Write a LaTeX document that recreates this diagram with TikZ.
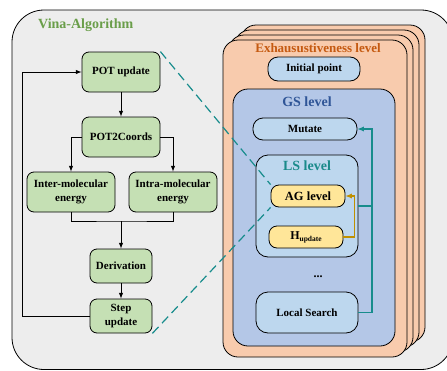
\documentclass[tikz,border=0pt]{standalone}
\usepackage{fontspec}
\setmainfont{Liberation Serif}
\usetikzlibrary{arrows,positioning}

\definecolor{bggray}{HTML}{EDEDED}
\definecolor{boxgreen}{HTML}{C5E0B4}
\definecolor{titlegreen}{HTML}{6A9E4A}
\definecolor{exhfill}{HTML}{F8CBAD}
\definecolor{exhtext}{HTML}{C55A11}
\definecolor{gsfill}{HTML}{B4C7E7}
\definecolor{gstext}{HTML}{2F5597}
\definecolor{lsfill}{HTML}{BDD7EE}
\definecolor{lstext}{HTML}{1A8A8A}
\definecolor{agfill}{HTML}{FFE699}
\definecolor{linkteal}{HTML}{178C8C}
\definecolor{gold}{HTML}{BF9000}

\tikzset{
	greenbox/.style={draw=black, fill=boxgreen, rounded corners=7, line width=0.8pt,
		font=\bfseries\fontsize{11}{13.3}\selectfont, align=center, inner sep=0pt},
	bluebox/.style={draw=black, fill=lsfill, line width=0.8pt,
		font=\bfseries\fontsize{11}{13}\selectfont, align=center, inner sep=0pt},
	yellowbox/.style={draw=black, fill=agfill, rounded corners=8, line width=0.8pt,
		font=\bfseries, align=center, inner sep=0pt},
	exhbox/.style={draw=black, fill=exhfill, rounded corners=15, line width=0.8pt,
		minimum width=184, minimum height=317, inner sep=0pt},
	levelname/.style={font=\bfseries\fontsize{14}{16}\selectfont, inner sep=0pt},
	arr/.style={-latex, line width=1pt},
	link/.style={linkteal, line width=1.2pt, dash pattern=on 9pt off 5pt},
}

\begin{document}
\begin{tikzpicture}[x=1pt, y=-1pt]
	\useasboundingbox (0,0) rectangle (447,370);
	\clip (0,0) rectangle (447,370);
	% outer frame
	\draw[fill=bggray, rounded corners=32, line width=0.8pt] (12,10) rectangle (453,369.5);
	\node[anchor=west, levelname, text=titlegreen] (title) at (38,25) {Vina-Algorithm};

	% left flow
	\node[greenbox, minimum width=78, minimum height=40] (potup) at (121,72) {POT update};
	\node[greenbox, minimum width=78, minimum height=40] (pot2c) at (121,137) {POT2Coords};
	\node[greenbox, minimum width=88, minimum height=40] (inter) at (71,192) {Inter-molecular\\energy};
	\node[greenbox, minimum width=88, minimum height=40] (intra) at (173,192) {Intra-molecular\\energy};
	\node[greenbox, minimum width=62, minimum height=34] (deriv) at (121,266) {Derivation};
	\node[greenbox, minimum width=62, minimum height=34] (step) at (121,316) {Step\\update};
	\coordinate (join) at (121,221);

	\draw[arr] (potup) -- (pot2c);
	\draw[arr] (pot2c.west) -| (inter.north);
	\draw[arr] (pot2c.east) -| (intra.north);
	\draw[line width=1pt] (inter.south) |- (join) -| (intra.south);
	\draw[arr] (join) -- (deriv);
	\draw[arr] (deriv) -- (step);
	\draw[arr] (step.west) -- ++(-67,0) |- (potup.west);

	% exhaustiveness stack
	\foreach \k in {3,2,1}
		\node[exhbox] (exh\k) at (315+6*\k,198.5-5*\k) {};
	\node[exhbox] (exh) at (315,198.5) {};
	\node[levelname, text=exhtext, font=\bfseries\fontsize{13}{15}\selectfont] (exhname) at (318,48) {Exhausustiveness level};
	\node[bluebox, rounded corners=10, minimum width=92, minimum height=24] (init) at (314,69) {Initial point};

	% GS level
	\node[draw=black, fill=gsfill, rounded corners=15, line width=0.8pt,
		minimum width=162, minimum height=257] (gs) at (314,217.5) {};
	\node[levelname, text=gstext] (gsname) at (307,102) {GS level};
	\node[bluebox, rounded corners=10, minimum width=104, minimum height=22] (mutate) at (305,129) {Mutate};

	% LS level
	\node[draw=black, fill=lsfill, rounded corners=12, line width=0.8pt,
		minimum width=102, minimum height=102] (ls) at (307,206) {};
	\node[levelname, text=lstext] (lsname) at (307,166) {LS level};
	\node[yellowbox, minimum width=74, minimum height=22, font=\bfseries\fontsize{12.5}{14}\selectfont] (ag) at (308,196) {AG level};
	\node[yellowbox, minimum width=74, minimum height=22, font=\bfseries\fontsize{12}{14}\selectfont] (hup) at (306,237)
		{H\raisebox{-0.35ex}{\fontsize{7.5}{8}\selectfont update}};
	\draw[gold, -latex, line width=1.2pt] (hup.east) -- ++(11,0) |- (ag.east);

	\node[font=\bfseries\fontsize{12}{14}\selectfont] (dots) at (318,277) {...};
	\node[bluebox, rounded corners=12, minimum width=102, minimum height=41] (local) at (307,312.5) {Local Search};

	% links inside GS level
	\coordinate (spine) at (372,206);
	\draw[linkteal, -latex, line width=1.2pt] (local.east) -| (spine) |- (mutate.east);
	\draw[linkteal, line width=1.2pt] (ls.east) -- (spine);

	% zoom lines
	\draw[link] (potup.north east) -- (ag.north west);
	\draw[link] (step.south east) -- (ag.south west);
\end{tikzpicture}
\end{document}
